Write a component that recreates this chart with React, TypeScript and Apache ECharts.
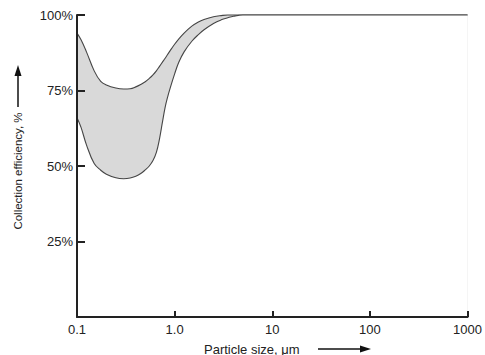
import React, { useEffect, useRef } from "react";
import * as echarts from "echarts";

// Particle size (µm) sample points shared by both boundary curves
const sizes = [0.1, 0.11, 0.125, 0.15, 0.175, 0.2, 0.25, 0.3, 0.35, 0.4, 0.45, 0.5, 0.55, 0.6, 0.65, 0.7, 0.75, 0.8, 0.85, 0.9, 1.0, 1.1, 1.25, 1.5, 1.75, 2, 2.5, 3, 3.5, 4, 5, 7, 10, 1000];
// Upper boundary of collection efficiency (%)
const upper = [94, 91.8, 87.8, 81.5, 78, 76.8, 75.8, 75.5, 75.6, 76.2, 77, 77.9, 79, 80.2, 81.5, 83, 84.4, 85.7, 87, 88.2, 90.3, 92, 94, 96.3, 97.7, 98.5, 99.4, 99.8, 100, 100, 100, 100, 100, 100];
// Lower boundary of collection efficiency (%)
const lower = [66, 62.8, 57, 50.8, 48.6, 47.3, 46.1, 45.8, 46, 46.6, 47.5, 48.7, 50, 51.8, 54.5, 59, 64.5, 69.5, 73, 75.8, 80.5, 84.3, 87.8, 91.3, 93.5, 95.1, 97.2, 98.4, 99.1, 99.6, 100, 100, 100, 100];

const xTickLabels = ["0.1", "1.0", "10", "100", "1000"];
const yTicks = [0, 25, 50, 75, 100];

const FONT = '"Liberation Sans", Arial, Helvetica, sans-serif';

export default function App() {
  const ref = useRef<HTMLDivElement>(null);
  useEffect(() => {
    if (!ref.current) return;
    const chart = echarts.init(ref.current, null, { renderer: "svg" });
    const upperData = sizes.map((s, i) => [s, upper[i]]);
    const lowerData = sizes.map((s, i) => [s, lower[i]]);
    const lineColor = "#454545";
    chart.setOption({
      animation: false,
      backgroundColor: "#ffffff",
      grid: { left: 77, right: 15, top: 15, bottom: 38, containLabel: false },
      xAxis: {
        type: "log",
        logBase: 10,
        min: 0.1,
        max: 1000,
        z: 10,
        axisLine: { show: true, lineStyle: { color: "#222", width: 2 } },
        axisTick: { show: true, inside: true, length: 6, lineStyle: { color: "#222", width: 2 } },
        minorTick: { show: false },
        splitLine: { show: false },
        axisLabel: {
          margin: 6,
          fontSize: 13,
          fontFamily: FONT,
          color: "#222",
          formatter: (v: number) => {
            const idx = Math.round(Math.log10(v)) + 1;
            return xTickLabels[idx] ?? "";
          },
        },
      },
      yAxis: {
        type: "value",
        min: yTicks[0],
        max: yTicks[yTicks.length - 1],
        interval: 25,
        z: 10,
        axisLine: { show: true, lineStyle: { color: "#222", width: 2 } },
        axisTick: { show: true, inside: true, length: 8, lineStyle: { color: "#222", width: 2 } },
        splitLine: { show: false },
        axisLabel: {
          margin: 4,
          fontSize: 13,
          fontFamily: FONT,
          color: "#222",
          formatter: (v: number) => (v === 0 ? "" : v + "%"),
        },
      },
      series: [
        {
          name: "upper",
          type: "line",
          data: upperData,
          smooth: 0.4,
          showSymbol: false,
          symbol: "none",
          clip: false,
          lineStyle: { color: lineColor, width: 1.1 },
          areaStyle: { color: "#d9d9d9", opacity: 1 },
          z: 2,
        },
        {
          name: "lower",
          type: "line",
          data: lowerData,
          smooth: 0.4,
          showSymbol: false,
          symbol: "none",
          clip: false,
          lineStyle: { color: lineColor, width: 1.1 },
          areaStyle: { color: "#ffffff", opacity: 1 },
          z: 3,
        },
      ],
      graphic: [
        {
          type: "text",
          x: 204,
          y: 349,
          style: {
            text: "Particle size, \u03bcm",
            font: `13px ${FONT}`,
            fill: "#222",
            align: "left",
            verticalAlign: "middle",
          },
        },
        {
          type: "line",
          shape: { x1: 318, y1: 349, x2: 362, y2: 349 },
          style: { stroke: "#111", lineWidth: 1.5 },
        },
        {
          type: "polygon",
          shape: { points: [[371, 349], [360, 345.5], [360, 352.5]] },
          style: { fill: "#111" },
        },
        {
          type: "text",
          x: 18,
          y: 171,
          rotation: Math.PI / 2,
          style: {
            text: "Collection efficiency, %",
            font: `11.5px ${FONT}`,
            fill: "#222",
            align: "center",
            verticalAlign: "middle",
          },
        },
        {
          type: "line",
          shape: { x1: 18, y1: 107, x2: 18, y2: 75 },
          style: { stroke: "#111", lineWidth: 1.5 },
        },
        {
          type: "polygon",
          shape: { points: [[18, 65], [14.5, 76], [21.5, 76]] },
          style: { fill: "#111" },
        },
      ],
    });
    return () => chart.dispose();
  }, []);
  return (
    <div
      ref={ref}
      style={{ position: "fixed", left: 0, top: 0, width: 485, height: 355, background: "#fff" }}
    />
  );
}
